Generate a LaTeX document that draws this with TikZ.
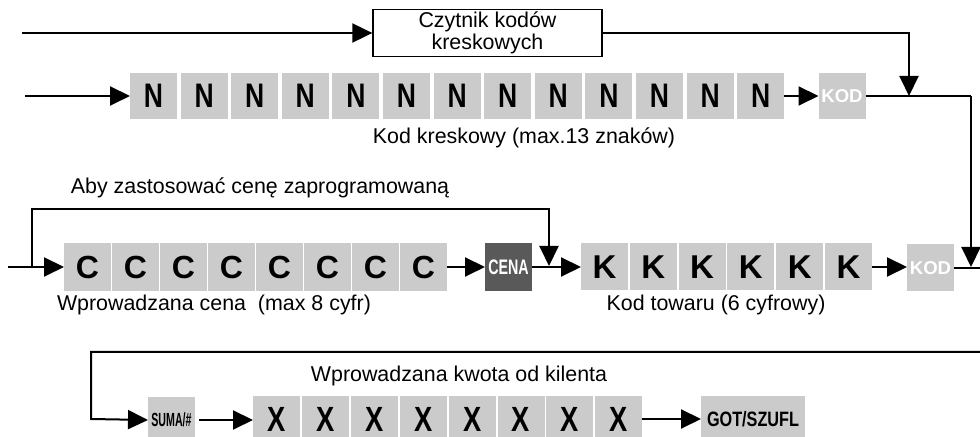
\documentclass[tikz,border=0pt]{standalone}
\usepackage{fontspec}
\setmainfont{Liberation Sans}
\newfontfamily\narrowfont[FakeStretch=0.78]{Liberation Sans}
\newfontfamily\condfont[FakeStretch=0.56]{Liberation Sans}
\newfontfamily\cenafont[FakeStretch=0.68]{Liberation Sans}
\usetikzlibrary{arrows.meta}
\definecolor{boxgray}{HTML}{CBCBCB}
\definecolor{cenagray}{HTML}{595959}
\begin{document}
\begin{tikzpicture}[x=0.5pt,y=-0.5pt,
  gbox/.style={fill=boxgray, minimum width=23.5pt, minimum height=23pt, inner sep=0pt, outer sep=0pt},
  letN/.style={font=\narrowfont\bfseries\fontsize{17}{17}\selectfont},
  letC/.style={font=\bfseries\fontsize{16}{16}\selectfont},
  letK/.style={font=\bfseries\fontsize{16.5}{16.5}\selectfont},
  letX/.style={font=\narrowfont\bfseries\fontsize{17.5}{17.5}\selectfont},
  kodtxt/.style={font=\bfseries\fontsize{9.3}{9.3}\selectfont, text=white},
  cenatxt/.style={font=\cenafont\bfseries\fontsize{10.5}{10.5}\selectfont, text=white},
  sumatxt/.style={font=\condfont\bfseries\fontsize{9.5}{9.5}\selectfont},
  gottxt/.style={font=\narrowfont\bfseries\fontsize{10.4}{10.4}\selectfont},
  lbl/.style={font=\fontsize{10.7}{10.7}\selectfont, inner sep=0pt},
  conn/.style={line width=1pt, -{Triangle[length=10pt,width=9.5pt]}},
  plainline/.style={line width=1pt}]
\useasboundingbox (0,0) rectangle (980,437);
\clip (0,0) rectangle (980,437);

% --- row 1: barcode reader
\node[draw, line width=0.65pt, minimum width=114.5pt, minimum height=23.5pt, inner sep=0pt,
      align=center, lbl] (czyt) at (487.5,33) {Czytnik kodów\\[0.5pt]kreskowych};
\coordinate (t0) at (22,33);
\draw[conn] (t0) -- (czyt.west);

% --- row 2: barcode
\coordinate (s2) at (25,96);
\foreach \i in {1,...,13} {
  \node[gbox, letN] (n\i) at ({153.5+50.6*(\i-1)},96) {N};
}
\node[gbox, kodtxt] (kod1) at (842,96) {KOD};
\draw[conn] (s2) -- (n1.west);
\draw[conn] (n13.east) -- (kod1.west);
\coordinate (j1) at (909,96);
\draw[conn] (czyt.east) -| (j1);
\coordinate (r1) at (971,96);
\coordinate (r2) at (971,267);
\draw[plainline] (kod1.east) -- (r1);
\draw[conn] (r1) -- (r2);
\node[lbl] (lab1) at (524,138) {Kod kreskowy (max.13 znaków)};

% --- row 3: price and product code
\node[lbl] (lab2) at (260,188) {Aby zastosować cenę zaprogramowaną};
\coordinate (s3) at (8,267);
\foreach \i in {1,...,8} {
  \node[gbox, letC, minimum height=24pt] (c\i) at ({87.5+48*(\i-1)},267) {C};
}
\node[gbox, fill=cenagray, cenatxt, minimum height=24pt] (cena) at (508.5,267) {CENA};
\foreach \i in {1,...,6} {
  \node[gbox, letK, minimum height=23.5pt] (k\i) at ({604.5+48.8*(\i-1)},267) {K};
}
\node[gbox, kodtxt, minimum height=23.5pt] (kod2) at (930.5,268) {KOD};
\draw[conn] (s3) -- (c1.west);
\draw[conn] (c8.east) -- (cena.west);
\draw[conn] (cena.east) -- (k1.west);
\draw[conn] (k6.east) -- (kod2.west |- k6.east);
\coordinate (re) at (984,268);
\draw[plainline] (kod2.east) -- (re);
\coordinate (lp0) at (32,267);
\coordinate (lpa) at (32,209);
\coordinate (lpb) at (549,209);
\coordinate (lp1) at (549,266);
\draw[conn] (lp0) -- (lpa) -- (lpb) -- (lp1);
\node[lbl] (lab3) at (214,305) {Wprowadzana cena\ \ (max 8 cyfr)};
\node[lbl] (lab4) at (716,305) {Kod towaru (6 cyfrowy)};

% --- row 4: payment
\coordinate (b0) at (984,352);
\coordinate (b1) at (91,352);
\coordinate (b2) at (91,419);
\node[gbox, sumatxt, minimum height=23pt] (suma) at (171.5,420) {SUMA/\#};
\draw[conn] (b0) -- (b1) -- (b2) -- (suma.west);
\node[lbl] (lab5) at (459,376) {Wprowadzana kwota od kilenta};
\foreach \i in {1,...,8} {
  \node[gbox, letX, minimum height=23pt] (x\i) at ({276.5+48.9*(\i-1)},419) {X};
}
\node[gbox, gottxt, minimum width=52pt, minimum height=23pt] (got) at (753,419) {GOT/SZUFL};
\draw[conn, shorten <=2pt] (suma.east) -- (x1.west |- suma.east);
\draw[conn] (x8.east) -- (got.west);
\end{tikzpicture}
\end{document}
